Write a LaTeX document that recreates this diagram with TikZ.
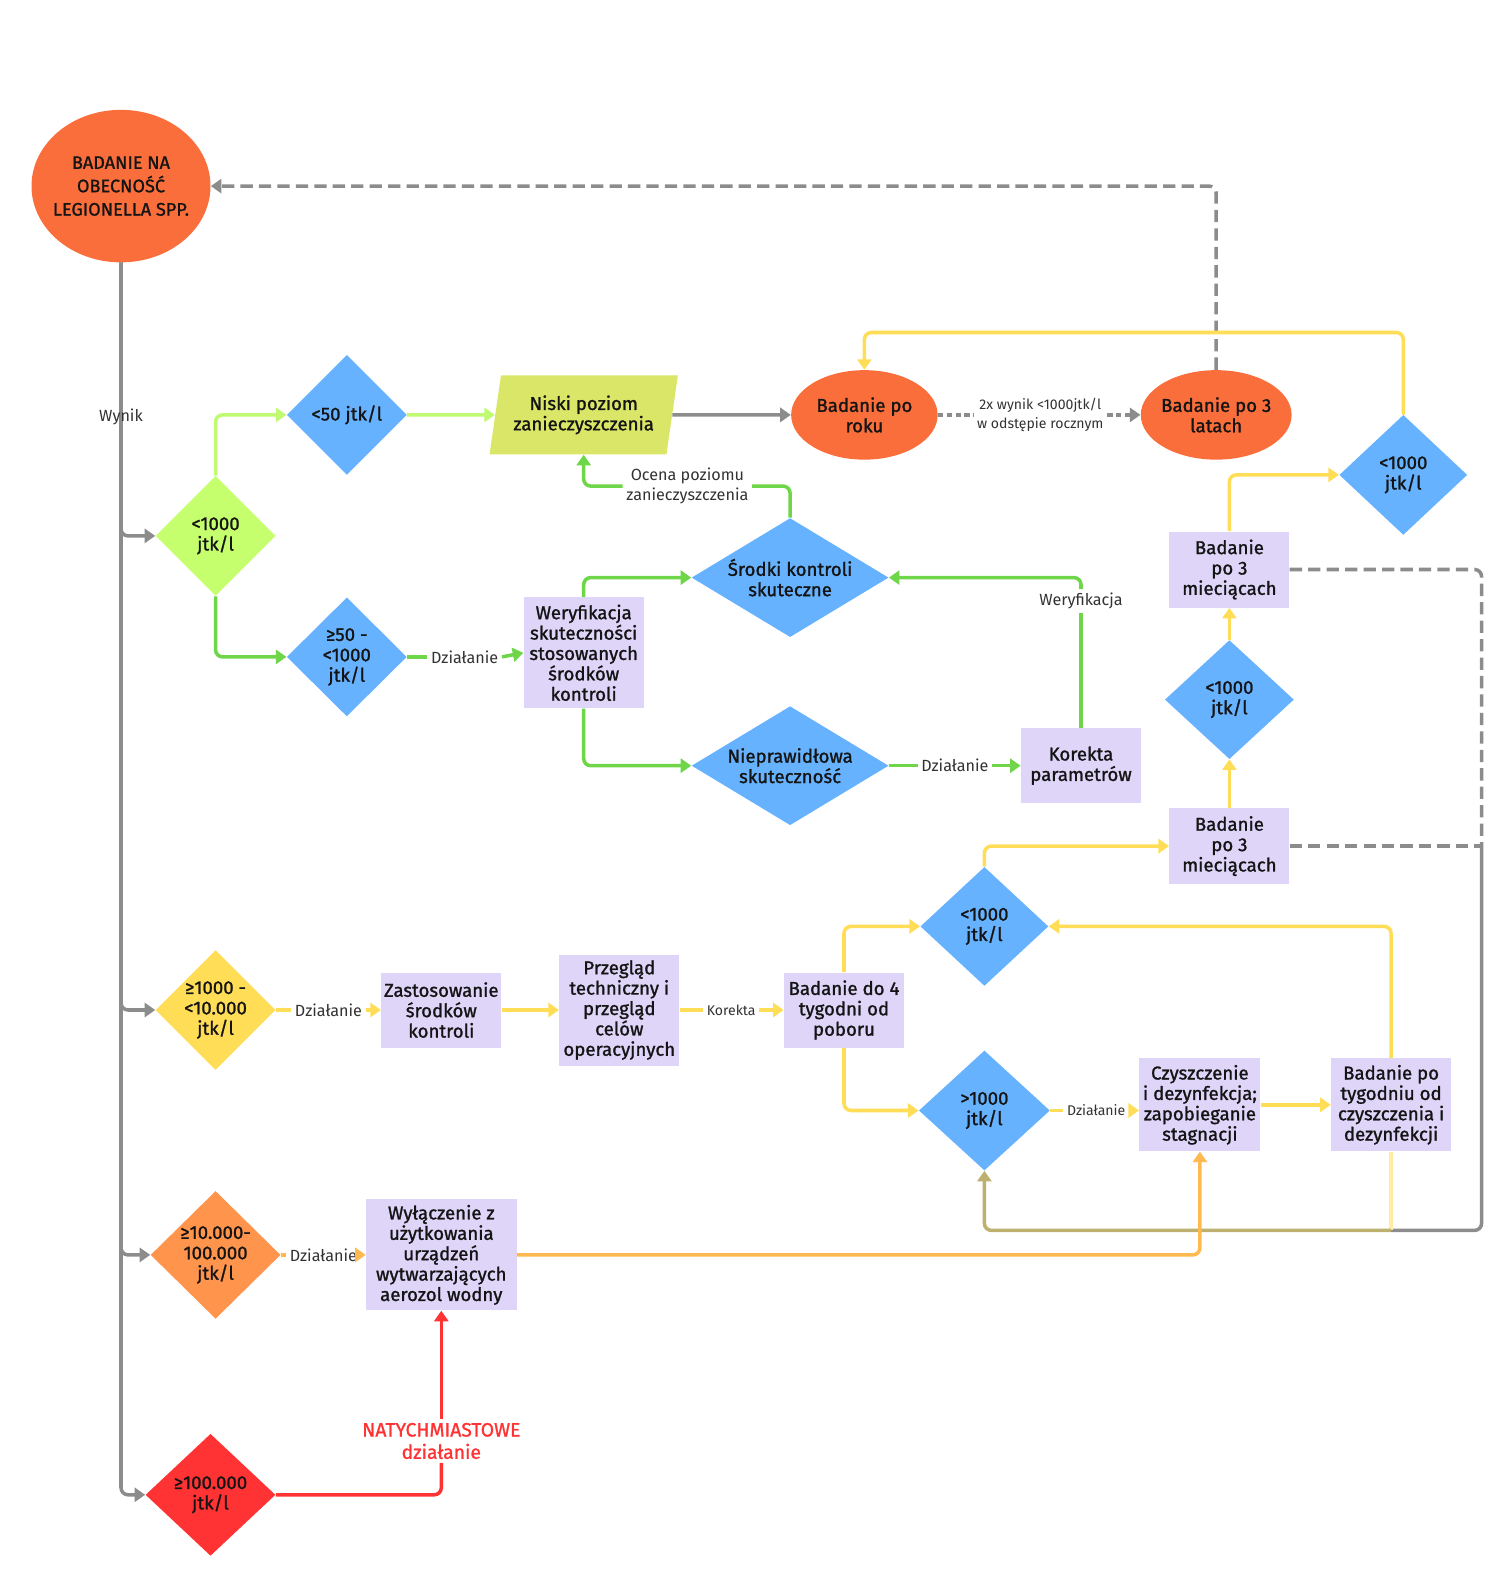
\documentclass[tikz,border=0pt]{standalone}
\usepackage{fontspec}
\setmainfont{Fira Sans}
\newfontfamily\gruby{Fira Sans}[FakeBold=1.2]
\usetikzlibrary{shapes.geometric, arrows.meta}

\definecolor{pomar}{RGB}{250,110,60}
\definecolor{niebieski}{RGB}{102,178,255}
\definecolor{jasnozielony}{RGB}{198,255,110}
\definecolor{oliwkowy}{RGB}{217,230,103}
\definecolor{lawenda}{RGB}{222,213,248}
\definecolor{zolty}{RGB}{255,221,87}
\definecolor{pomarancz}{RGB}{255,148,76}
\definecolor{czerwony}{RGB}{255,51,51}
\definecolor{szary}{RGB}{140,140,140}
\definecolor{zielonalinia}{RGB}{110,214,72}
\definecolor{jasnalinia}{RGB}{192,250,112}
\definecolor{zoltalinia}{RGB}{255,221,87}
\definecolor{bursztyn}{RGB}{255,185,80}
\definecolor{oliwka}{RGB}{190,176,110}
\definecolor{blady}{RGB}{255,236,165}
\definecolor{tekst}{RGB}{20,20,20}
\definecolor{opisowy}{RGB}{50,50,50}

\newcommand{\wezel}{\gruby\fontsize{10.6}{11.6}\selectfont}
\newcommand{\drobny}{\fontsize{8}{11}\selectfont}

\begin{document}
\begin{tikzpicture}[scale=0.2]
  \tikzstyle{every node}+=[inner sep=0pt, text=tekst]
  \tikzstyle{romb}=[diamond, fill=niebieski, align=center, font=\wezel, minimum width=2.4cm, minimum height=2.4cm]
  \tikzstyle{prost}=[rectangle, fill=lawenda, align=center, font=\wezel, minimum width=2.4cm]
  \tikzstyle{owal}=[ellipse, fill=pomar, align=center, font=\wezel, inner xsep=-1pt, minimum width=2.93cm, minimum height=1.79cm]
  \tikzstyle{rownolegl}=[trapezium, trapezium left angle=76, trapezium right angle=104, trapezium stretches=true, fill=oliwkowy, align=center, font=\wezel, minimum width=3.8cm, minimum height=1.58cm]
  \tikzstyle{opis}=[align=center, inner sep=2pt, text=opisowy, font=\fontsize{9.2}{11.4}\selectfont]
  \tikzstyle{linia}=[line width=2pt, rounded corners=4pt]
  \tikzstyle{strz}=[-{Triangle[width=8pt,length=6pt]}]
  \useasboundingbox (0,0) rectangle (150.4,-159.5);

  \node [owal, inner xsep=-3pt, minimum width=3.58cm, minimum height=3.05cm, font=\gruby\fontsize{10.3}{13.3}\selectfont] (start) at (12.10,-18.61) {BADANIE NA\\OBECNOŚĆ\\LEGIONELLA SPP.};
  \node [romb, fill=jasnozielony] (zielony) at (21.56,-53.59) {<1000\\jtk/l};
  \node [romb] (lt50) at (34.68,-41.49) {<50 jtk/l};
  \node [rownolegl] (niski) at (58.37,-41.49) {Niski poziom\\zanieczyszczenia};
  \node [owal] (roku) at (86.44,-41.49) {Badanie po\\roku};
  \node [owal] (latach) at (121.62,-41.49) {Badanie po 3\\latach};
  \node [opis, font=\drobny] (dwa) at (104.03,-41.49) {2x wynik <1000jtk/l\\w odstępie rocznym};
  \node [romb, minimum width=2.56cm] (lt1000a) at (140.33,-47.49) {<1000\\jtk/l};
  \node [prost, minimum height=1.52cm] (bp3a) at (122.94,-56.95) {Badanie\\po 3\\mieciącach};
  \node [romb, minimum width=2.58cm, minimum height=2.38cm] (lt1000b) at (122.94,-69.96) {<1000\\jtk/l};
  \node [prost, minimum height=1.52cm] (bp3b) at (122.94,-84.61) {Badanie\\po 3\\mieciącach};
  \node [romb, aspect=1.7, minimum width=3.94cm, minimum height=2.38cm] (srodki) at (79.01,-57.76) {Środki kontroli\\skuteczne};
  \node [romb, aspect=1.7, minimum width=3.94cm, minimum height=2.38cm] (niepr) at (79.01,-76.57) {Nieprawidłowa\\skuteczność};
  \node [prost, minimum height=2.22cm] (weryf) at (58.37,-65.28) {Weryfikacja\\skuteczności\\stosowanych\\środków\\kontroli};
  \node [romb, minimum height=2.38cm] (ge50) at (34.68,-65.69) {≥50 -\\<1000\\jtk/l};
  \node [prost, minimum height=1.5cm] (korp) at (108.10,-76.57) {Korekta\\parametrów};
  \node [opis] (dz1) at (46.47,-65.69) {Działanie};
  \node [opis] (dz2) at (95.49,-76.57) {Działanie};
  \node [opis] (werlbl) at (108.10,-60.10) {Weryfikacja};
  \node [opis] (ocena) at (68.74,-48.61) {Ocena poziomu\\zanieczyszczenia};

  \node [romb, fill=zolty] (zolty) at (21.56,-101.0) {≥1000 -\\<10.000\\jtk/l};
  \node [prost, minimum height=1.5cm] (zast) at (44.13,-101.0) {Zastosowanie\\środków\\kontroli};
  \node [prost, minimum height=2.22cm] (przeg) at (61.93,-101.0) {Przegląd\\techniczny i\\przegląd\\celów\\operacyjnych};
  \node [prost, minimum height=1.5cm] (bd4) at (84.40,-101.0) {Badanie do 4\\tygodni od\\poboru};
  \node [opis] (dz3) at (32.85,-101.0) {Działanie};
  \node [opis, font=\drobny] (kor) at (73.12,-101.0) {Korekta};
  \node [romb, minimum width=2.56cm, minimum height=2.38cm] (lt1000c) at (98.44,-92.64) {<1000\\jtk/l};
  \node [romb, minimum width=2.62cm] (gt1000) at (98.44,-111.05) {>1000\\jtk/l};
  \node [prost, minimum width=2.42cm, minimum height=1.86cm] (czysz) at (119.99,-110.48) {Czyszczenie\\i dezynfekcja;\\zapobieganie\\stagnacji};
  \node [prost, minimum height=1.86cm] (tydz) at (139.11,-110.48) {Badanie po\\tygodniu od\\czyszczenia i\\dezynfekcji};
  \node [opis, font=\drobny] (dz4) at (109.62,-111.05) {Działanie};

  \node [romb, fill=pomarancz, minimum width=2.6cm, minimum height=2.42cm] (pom) at (21.56,-125.49) {≥10.000-\\100.000\\jtk/l};
  \node [prost, minimum width=3.01cm, minimum height=2.22cm] (wyl) at (44.13,-125.49) {Wyłączenie z\\użytkowania\\urządzeń\\wytwarzających\\aerozol wodny};
  \node [opis] (dz5) at (32.34,-125.49) {Działanie};
  \node [romb, fill=czerwony, minimum width=2.6cm, minimum height=2.44cm] (czer) at (21.05,-149.48) {≥100.000\\jtk/l};
  \node [opis, text=czerwony, font=\gruby\fontsize{11}{12.7}\selectfont] (natych) at (44.13,-144.10) {NATYCHMIASTOWE\\działanie};

  \coordinate (gora) at (0,-33.25);
  \coordinate (prawy) at (148.16,-84.61);
  \coordinate (dol) at (139.11,-123.04);

  \draw [linia, strz, szary] (start.south) |- (zielony.west);
  \draw [linia, strz, szary] (start.south) |- (zolty.west);
  \draw [linia, strz, szary] (start.south) |- (pom.west);
  \draw [linia, strz, szary] (start.south) |- (czer.west);
  \node [opis, inner sep=0pt] (wynik) at (12.10,-41.70) {Wynik};
  \draw [linia, strz, szary, dash pattern=on 7pt off 3.5pt] (latach.north) |- (start.east);

  \draw [linia, strz, jasnalinia] (zielony.north) |- (lt50.west);
  \draw [linia, strz, jasnalinia] (lt50.east) -- (niski.west);
  \draw [linia, strz, szary] (niski.east) -- (roku.west);
  \draw [linia, szary, dash pattern=on 3pt off 2pt] (roku.east) -- (dwa.west);
  \draw [linia, strz, szary, dash pattern=on 3pt off 2pt] (dwa.east) -- (latach.west);
  \draw [linia, strz, zoltalinia] (lt1000a.north) -- (lt1000a.north |- gora) -| (roku.north);
  \draw [linia, strz, zoltalinia] (bp3a.north) |- (lt1000a.west);
  \draw [linia, strz, zoltalinia] (lt1000b.north) -- (bp3a.south);
  \draw [linia, strz, zoltalinia] (bp3b.north) -- (lt1000b.south);

  \draw [linia, strz, zielonalinia] (zielony.south) |- (ge50.west);
  \draw [linia, zielonalinia] (ge50.east) -- (dz1.west);
  \draw [linia, strz, zielonalinia] (dz1.east) -- (weryf.west);
  \draw [linia, strz, zielonalinia] (weryf.north) |- (srodki.west);
  \draw [linia, strz, zielonalinia] (weryf.south) |- (niepr.west);
  \draw [linia, zielonalinia] (niepr.east) -- (dz2.west);
  \draw [linia, strz, zielonalinia] (dz2.east) -- (korp.west);
  \draw [linia, zielonalinia] (korp.north) -- (werlbl.south);
  \draw [linia, strz, zielonalinia] (werlbl.north) |- (srodki.east);
  \draw [linia, zielonalinia] (srodki.north) |- (ocena.east);
  \draw [linia, strz, zielonalinia] (ocena.west) -| (niski.south);

  \draw [linia, zoltalinia] (zolty.east) -- (dz3.west);
  \draw [linia, strz, zoltalinia] (dz3.east) -- (zast.west);
  \draw [linia, strz, zoltalinia] (zast.east) -- (przeg.west);
  \draw [linia, zoltalinia] (przeg.east) -- (kor.west);
  \draw [linia, strz, zoltalinia] (kor.east) -- (bd4.west);
  \draw [linia, strz, zoltalinia] (bd4.north) |- (lt1000c.west);
  \draw [linia, strz, zoltalinia] (bd4.south) |- (gt1000.west);
  \draw [linia, strz, zoltalinia] (lt1000c.north) |- (bp3b.west);
  \draw [linia, zoltalinia] (gt1000.east) -- (dz4.west);
  \draw [linia, strz, zoltalinia] (dz4.east) -- (dz4.east -| czysz.west);
  \draw [linia, strz, zoltalinia] (czysz.east) -- (tydz.west);
  \draw [linia, strz, zoltalinia] (tydz.north) |- (lt1000c.east);

  \draw [linia, szary, dash pattern=on 7pt off 3.5pt] (bp3a.east) -| (prawy);
  \draw [linia, szary, dash pattern=on 7pt off 3.5pt] (bp3b.east) -- (prawy);
  \draw [linia, szary] (prawy) |- (dol);
  \draw [linia, blady] (tydz.south) -- (dol);
  \draw [linia, strz, oliwka] (dol) -| (gt1000.south);

  \draw [linia, bursztyn] (pom.east) -- (dz5.west);
  \draw [linia, strz, bursztyn] (dz5.east) -- (wyl.west);
  \draw [linia, strz, bursztyn] (wyl.east) -| (czysz.south);
  \draw [linia, czerwony] (czer.east) -| (natych.south);
  \draw [linia, strz, czerwony] (natych.north) -- (wyl.south);
\end{tikzpicture}
\end{document}
